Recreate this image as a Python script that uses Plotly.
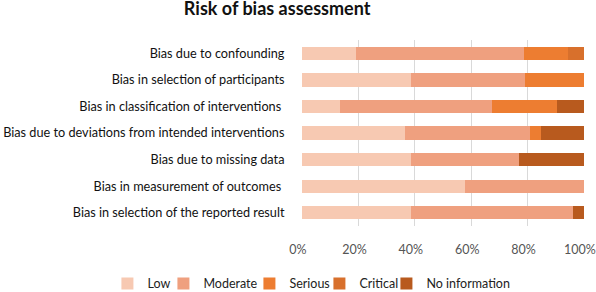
import plotly.graph_objects as go

categories = [
    "Bias due to confounding",
    "Bias in selection of participants",
    "Bias in classification of interventions ",
    "Bias due to deviations from intended interventions",
    "Bias due to missing data",
    "Bias in measurement of outcomes ",
    "Bias in selection of the reported result",
]

low = [19.2, 38.5, 13.5, 36.5, 38.5, 57.7, 38.5]
moderate = [59.6, 40.4, 53.9, 44.4, 38.6, 42.3, 57.7]
serious = [15.4, 21.1, 23.1, 3.7, 0, 0, 0]
critical = [5.8, 0, 0, 0, 0, 0, 0]
no_information = [0, 0, 9.5, 15.4, 22.9, 0, 3.8]

series = [
    ("Low", low, "#F7C9B2", 11),
    ("Moderate", moderate, "#EFA07F", 41),
    ("Serious", serious, "#ED7D31", 25),
    ("Critical", critical, "#D8702C", 22),
    ("No information", no_information, "#B85A1E", 88),
]

tick_vals = [0, 20, 40, 60, 80, 100]
tick_text = ["0%", "20%", "40%", "60%", "80%", "100%"]

FONT = "Lato, Carlito, Calibri, 'Open Sans', sans-serif"

fig = go.Figure()
for name, vals, color, lw in series:
    fig.add_trace(go.Bar(
        y=categories, x=vals, name=name, orientation="h",
        marker=dict(color=color, line=dict(width=0)),
        legendwidth=lw,
    ))

fig.update_layout(
    barmode="stack",
    bargap=0.5,
    width=596, height=292,
    margin=dict(l=302, r=12, t=40, b=66, autoexpand=False),
    paper_bgcolor="white", plot_bgcolor="white",
    font=dict(family=FONT, size=12.5, color="#111111"),
    title=dict(text="<b>Risk of bias assessment</b>", x=0.465, xref="container",
               xanchor="center", y=0.969, yref="container", yanchor="middle",
               font=dict(size=18, color="#111111", family=FONT)),
    xaxis=dict(range=[0, 100], tickvals=tick_vals, ticktext=tick_text,
               showgrid=True, gridcolor="#D9D9D9", gridwidth=1,
               zeroline=False, showline=False,
               ticks="outside", ticklen=12, tickcolor="rgba(0,0,0,0)",
               ticklabelshift=-4, ticklabeloverflow="allow",
               tickfont=dict(size=12.5, color="#555555")),
    yaxis=dict(autorange="reversed", showgrid=False, zeroline=False,
               ticks="outside", ticklen=14, tickcolor="rgba(0,0,0,0)",
               tickfont=dict(size=12.7, color="#111111")),
    legend=dict(orientation="h", x=-0.69, xref="paper", xanchor="left",
                y=-0.311, yref="paper", yanchor="middle",
                bgcolor="rgba(0,0,0,0)",
                font=dict(size=12.5, color="#222222"),
                itemwidth=30, traceorder="normal"),
)

fig.write_html("out.html",
               config={"displayModeBar": False},
               post_script="document.body.style.margin='0';document.body.style.overflow='hidden';")
